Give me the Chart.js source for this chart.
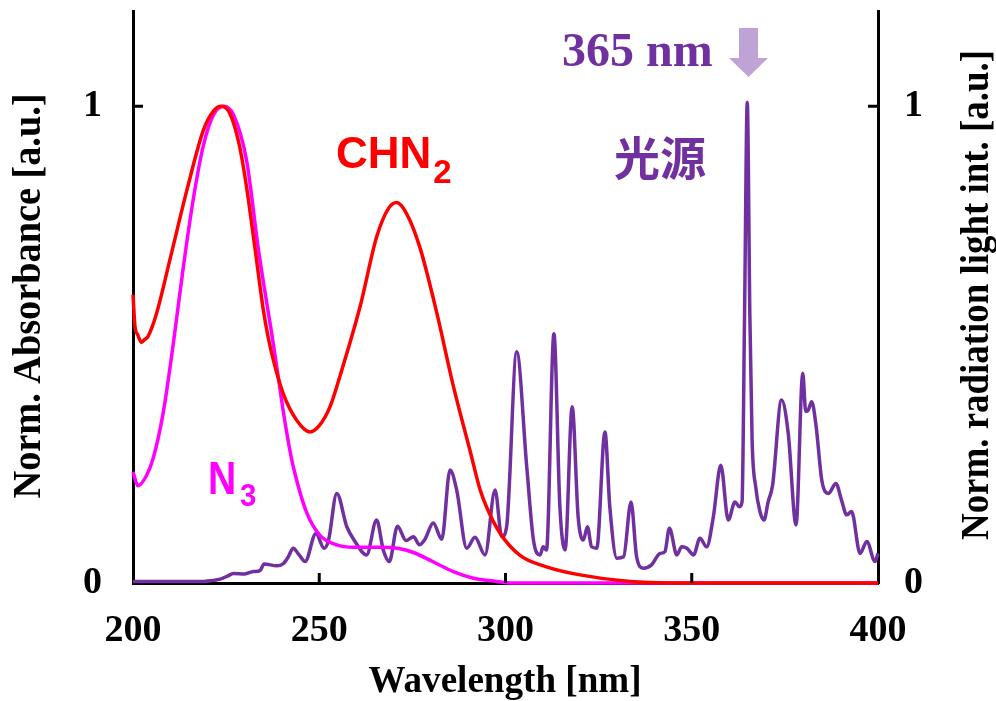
<!DOCTYPE html>
<html>
<head>
<meta charset="utf-8">
<script src="https://cdn.jsdelivr.net/npm/chart.js@4/dist/chart.umd.min.js"></script>
<style>
  body { margin: 0; background: #fff; }
  #wrap { width: 996px; height: 701px; position: relative; }
</style>
</head>
<body>
<div id="wrap"><canvas id="chart"></canvas></div>
<script>
// CHN2 absorbance (red)
const chn2Wl  = [200, 200.5, 201.3, 202.3, 203, 204, 206.3, 209.9, 214.4, 218.9, 221.6, 223.8, 226, 228.5, 230.5, 232.75, 235, 236.3, 237.7, 240.3, 243.9, 247.5, 250, 252.9, 255.6, 261, 265.4, 268.6, 270.8, 273.5, 277.1, 281.6, 286, 290.5, 293.2, 295, 298.5, 303.9, 311, 320, 333.4, 345, 400];
const chn2Abs = [0.605, 0.541, 0.52, 0.505, 0.51, 0.517, 0.565, 0.678, 0.822, 0.95, 0.99, 1.0, 0.985, 0.92, 0.83, 0.702, 0.572, 0.515, 0.467, 0.398, 0.342, 0.317, 0.33, 0.37, 0.435, 0.581, 0.726, 0.786, 0.798, 0.774, 0.702, 0.565, 0.413, 0.277, 0.195, 0.158, 0.105, 0.058, 0.034, 0.017, 0.003, 0, 0];

// N3 absorbance (magenta)
const n3Wl  = [200, 201.3, 203.6, 205.4, 208.1, 210.8, 213.5, 216.2, 218.9, 221.6, 224.3, 227, 230.5, 233.7, 237.7, 239, 240.4, 242.1, 243, 246.6, 250.2, 254.7, 259.1, 266.3, 271.7, 275.3, 280.7, 286, 291.4, 296.8, 302, 400];
const n3Abs = [0.233, 0.204, 0.225, 0.261, 0.357, 0.501, 0.662, 0.806, 0.918, 0.982, 1.0, 0.982, 0.886, 0.698, 0.5, 0.432, 0.357, 0.279, 0.245, 0.148, 0.1, 0.08, 0.075, 0.075, 0.072, 0.064, 0.044, 0.024, 0.01, 0.004, 0, 0];

// light source spectrum (purple, right axis)
const lampWl  = [200, 210, 218, 221, 223.4, 225.5, 227, 230, 232.3, 234.1, 235.2, 238.6, 240.4, 241.7, 243, 244.5, 246.2, 249.1, 251.3, 252.5, 254.7, 257.4, 259.6, 262.7, 265.4, 267.2, 268.8, 271, 273.3, 275.3, 276.9, 278.4, 280.6, 282.9, 285.1, 286.9, 289.6, 291.8, 294.5, 297.2, 299, 300.3, 303, 305.7, 307.5, 309.3, 310.1, 311, 313, 314.6, 316, 317.9, 319.5, 320.9, 322, 323.1, 324.5, 326.7, 328, 329.9, 331.7, 333.7, 335.2, 337, 339.2, 341.5, 342.8, 344, 346, 347.3, 348.7, 350.5, 352.2, 354, 355.8, 357.8, 359.8, 361.6, 362.8, 363.5, 364.2, 364.9, 365.6, 366.2, 367.2, 368.3, 369.4, 370.5, 371.7, 374.1, 375.9, 378, 379.8, 380.6, 381.3, 382.2, 383.4, 384.9, 386.7, 388.7, 390.2, 391.6, 392.9, 395.2, 397, 399.2, 400];
const lampInt = [0.003, 0.003, 0.003, 0.005, 0.008, 0.015, 0.02, 0.019, 0.024, 0.026, 0.04, 0.036, 0.041, 0.055, 0.073, 0.06, 0.045, 0.104, 0.073, 0.09, 0.188, 0.118, 0.087, 0.059, 0.132, 0.069, 0.045, 0.119, 0.089, 0.097, 0.08, 0.092, 0.126, 0.092, 0.237, 0.195, 0.073, 0.096, 0.059, 0.195, 0.097, 0.118, 0.485, 0.244, 0.09, 0.059, 0.076, 0.069, 0.523, 0.16, 0.069, 0.37, 0.139, 0.09, 0.118, 0.076, 0.073, 0.317, 0.16, 0.052, 0.055, 0.17, 0.055, 0.031, 0.038, 0.062, 0.066, 0.115, 0.059, 0.076, 0.073, 0.059, 0.094, 0.076, 0.139, 0.247, 0.132, 0.17, 0.16, 0.17, 0.58, 1.008, 0.56, 0.3, 0.2, 0.15, 0.132, 0.17, 0.205, 0.384, 0.314, 0.122, 0.44, 0.36, 0.363, 0.38, 0.328, 0.216, 0.188, 0.209, 0.174, 0.143, 0.15, 0.062, 0.087, 0.045, 0.062];

// tick labels
const xTicks = [200, 250, 300, 350, 400];
const yTicks = [0, 1];

const serif = '"Liberation Serif", "Times New Roman", serif';
const sans = '"Liberation Sans", Arial, sans-serif';

function pts(xs, ys) {
  return xs.map((x, i) => ({ x: x, y: ys[i] }));
}

// text helper: optional horizontal squeeze and rotation
function txt(ctx, s, x, y, font, color, align, sx, rot) {
  ctx.save();
  ctx.translate(x, y);
  if (rot) ctx.rotate(rot);
  ctx.scale(sx || 1, 1);
  ctx.font = font;
  ctx.fillStyle = color;
  ctx.textAlign = align || 'left';
  ctx.textBaseline = 'alphabetic';
  ctx.fillText(s, 0, 0);
  ctx.restore();
}

// draw text squeezed to a given length, centred
function fitTxt(ctx, s, x, y, font, color, len, rot) {
  ctx.save();
  ctx.font = font;
  const w = ctx.measureText(s).width;
  ctx.restore();
  txt(ctx, s, x, y, font, color, 'center', len / w, rot);
}

const decor = {
  id: 'decor',
  afterDraw(chart) {
    const ctx = chart.ctx;
    const xs = chart.scales.x, ys = chart.scales.y, y2 = chart.scales.y2;
    const a = chart.chartArea;

    // inward tick marks
    ctx.save();
    ctx.strokeStyle = '#000';
    ctx.lineWidth = 3;
    ctx.beginPath();
    xTicks.slice(1, -1).forEach(v => {
      const px = xs.getPixelForValue(v);
      ctx.moveTo(px, a.bottom); ctx.lineTo(px, a.bottom - 10);
    });
    const p1 = ys.getPixelForValue(1);
    ctx.moveTo(a.left, p1); ctx.lineTo(a.left + 10, p1);
    const q1 = y2.getPixelForValue(1);
    ctx.moveTo(a.right, q1); ctx.lineTo(a.right - 10, q1);
    ctx.stroke();
    ctx.restore();

    // tick labels
    const tf = 'bold 38px ' + serif;
    xTicks.forEach(v => txt(ctx, String(v), xs.getPixelForValue(v), 641, tf, '#000', 'center'));
    yTicks.forEach(v => {
      txt(ctx, String(v), 102, ys.getPixelForValue(v) + 10, tf, '#000', 'right');
      txt(ctx, String(v), 904, y2.getPixelForValue(v) + 10, tf, '#000', 'left');
    });

    // axis titles
    fitTxt(ctx, 'Wavelength [nm]', 505, 692, 'bold 38px ' + serif, '#000', 273);
    fitTxt(ctx, 'Norm. Absorbance [a.u.]', 40, 296, 'bold 39px ' + serif, '#000', 405, -Math.PI / 2);
    fitTxt(ctx, 'Norm. radiation light int. [a.u.]', 988, 295, 'bold 39px ' + serif, '#000', 490, -Math.PI / 2);

    // CHN2 label
    ctx.save();
    ctx.font = 'bold 44px ' + sans;
    const wC = ctx.measureText('CHN').width;
    ctx.restore();
    txt(ctx, 'CHN', 336, 168, 'bold 44px ' + sans, '#FF0000', 'left');
    txt(ctx, '2', 336 + wC + 2, 183, 'bold 33px ' + sans, '#FF0000', 'left');

    // N3 label
    txt(ctx, 'N', 208, 494, 'bold 46px ' + sans, '#FF00FF', 'left', 0.85);
    txt(ctx, '3', 240, 506, 'bold 31px ' + sans, '#FF00FF', 'left', 0.95);

    // light source labels
    txt(ctx, '365 nm', 562, 66, 'bold 48px ' + serif, '#7030A0', 'left');
    txt(ctx, '光源', 660, 175, 'bold 46px "Noto Sans CJK JP"', '#7030A0', 'center');

    // arrow pointing at the 365 nm line
    ctx.save();
    ctx.fillStyle = '#BFA3D5';
    ctx.beginPath();
    ctx.moveTo(739, 28); ctx.lineTo(758, 28); ctx.lineTo(758, 58); ctx.lineTo(768, 58);
    ctx.lineTo(748.5, 77); ctx.lineTo(729, 58); ctx.lineTo(739, 58);
    ctx.closePath();
    ctx.fill();
    ctx.restore();
  }
};

const ctx = document.getElementById('chart').getContext('2d');
const myChart = new Chart(ctx, {
  type: 'line',
  data: {
    datasets: [
      {
        label: 'CHN2',
        data: pts(chn2Wl, chn2Abs),
        borderColor: '#FF0000',
        borderWidth: 3.5,
        yAxisID: 'y',
        order: 0
      },
      {
        label: 'N3',
        data: pts(n3Wl, n3Abs),
        borderColor: '#FF00FF',
        borderWidth: 3.5,
        yAxisID: 'y',
        order: 1
      },
      {
        label: '光源',
        data: pts(lampWl, lampInt),
        borderColor: '#7030A0',
        borderWidth: 3.5,
        yAxisID: 'y2',
        order: 2
      }
    ]
  },
  options: {
    responsive: true,
    maintainAspectRatio: false,
    animation: false,
    layout: { padding: { top: 11, left: 0, right: 0, bottom: 0 } },
    elements: {
      point: { radius: 0 },
      line: { tension: 0.4, cubicInterpolationMode: 'monotone', fill: false }
    },
    datasets: { line: { clip: false } },
    plugins: {
      legend: { display: false },
      tooltip: { enabled: false }
    },
    scales: {
      x: {
        type: 'linear',
        min: 200,
        max: 400,
        grid: { display: false },
        border: { display: true, color: '#000', width: 3 },
        ticks: { display: false },
        afterFit: s => { s.height = 118; }
      },
      y: {
        position: 'left',
        min: 0,
        max: 1.2,
        grid: { display: false },
        border: { display: true, color: '#000', width: 3 },
        ticks: { display: false },
        afterFit: s => { s.width = 133; }
      },
      y2: {
        position: 'right',
        min: 0,
        max: 1.2,
        grid: { display: false },
        border: { display: true, color: '#000', width: 3 },
        ticks: { display: false },
        afterFit: s => { s.width = 118; }
      }
    }
  },
  plugins: [decor]
});
</script>
</body>
</html>
